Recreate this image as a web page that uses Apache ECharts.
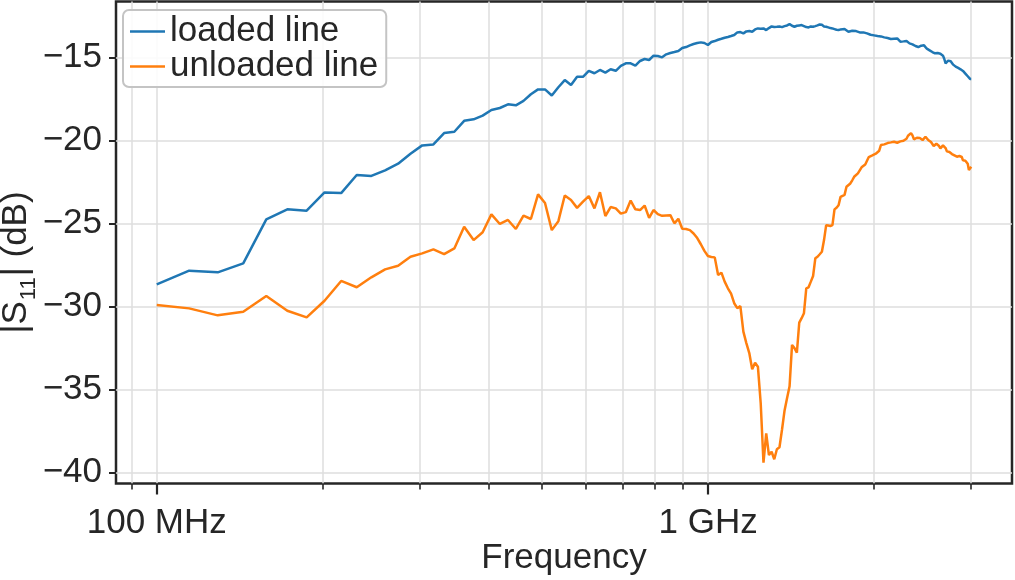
<!DOCTYPE html>
<html>
<head>
<meta charset="utf-8">
<script src="https://cdn.jsdelivr.net/npm/echarts@6/dist/echarts.min.js"></script>
<style>
html,body{margin:0;padding:0;background:#fff;}
#chart{width:1015px;height:580px;}
</style>
</head>
<body>
<div id="chart"></div>
<script>
// Frequency sweep points (MHz)
const frequencyMHz = [
100,114.5,129,143.5,158,172.5,187,201.5,216,230.5,
245,259.5,274,288.5,303,317.5,332,346.5,361,375.5,
390,404.5,419,433.5,448,462.5,477,491.5,506,520.5,
535,549.5,564,578.5,593,607.5,622,636.5,651,665.5,
680,694.5,709,723.5,738,752.5,767,781.5,796,810.5,
825,839.5,854,868.5,883,897.5,912,926.5,941,955.5,
970,984.5,999,1013.5,1028,1042.5,1057,1071.5,1086,1100.5,
1115,1129.5,1144,1158.5,1173,1187.5,1202,1216.5,1231,1245.5,
1260,1274.5,1289,1303.5,1318,1332.5,1347,1361.5,1376,1390.5,
1405,1419.5,1434,1448.5,1463,1477.5,1492,1506.5,1521,1535.5,
1550,1564.5,1579,1593.5,1608,1622.5,1637,1651.5,1666,1680.5,
1695,1709.5,1724,1738.5,1753,1767.5,1782,1796.5,1811,1825.5,
1840,1854.5,1869,1883.5,1898,1912.5,1927,1941.5,1956,1970.5,
1985,1999.5,2014,2028.5,2043,2057.5,2072,2086.5,2101,2115.5,
2130,2144.5,2159,2173.5,2188,2202.5,2217,2231.5,2246,2260.5,
2275,2289.5,2304,2318.5,2333,2347.5,2362,2376.5,2391,2405.5,
2420,2434.5,2449,2463.5,2478,2492.5,2507,2521.5,2536,2550.5,
2565,2579.5,2594,2608.5,2623,2637.5,2652,2666.5,2681,2695.5,
2710,2724.5,2739,2753.5,2768,2782.5,2797,2811.5,2826,2840.5,
2855,2869.5,2884,2898.5,2913,2927.5,2942,2956.5,2971,2985.5,
3000
];

// |S11| in dB, loaded line
const loadedLine = [
-28.66,-27.84,-27.94,-27.40,-24.75,-24.15,-24.23,-23.13,-23.17,-22.08,
-22.14,-21.80,-21.40,-20.80,-20.30,-20.24,-19.56,-19.48,-18.82,-18.73,
-18.51,-18.17,-18.05,-17.83,-17.89,-17.62,-17.22,-16.93,-16.93,-17.30,
-16.80,-16.37,-16.67,-16.17,-16.17,-15.82,-15.96,-15.76,-15.92,-15.72,
-15.81,-15.52,-15.36,-15.36,-15.50,-15.22,-15.10,-15.16,-14.90,-14.92,
-15.00,-14.82,-14.74,-14.68,-14.62,-14.44,-14.38,-14.28,-14.20,-14.14,
-14.10,-14.14,-14.26,-14.08,-14.02,-13.94,-13.88,-13.82,-13.78,-13.72,
-13.66,-13.50,-13.48,-13.56,-13.44,-13.42,-13.46,-13.32,-13.26,-13.28,
-13.26,-13.36,-13.24,-13.14,-13.18,-13.16,-13.14,-13.18,-13.12,-13.08,
-13.00,-13.10,-13.16,-13.10,-13.08,-13.06,-13.12,-13.18,-13.20,-13.14,
-13.16,-13.12,-13.08,-13.02,-13.04,-13.14,-13.16,-13.20,-13.24,-13.26,
-13.30,-13.34,-13.36,-13.32,-13.34,-13.30,-13.38,-13.46,-13.50,-13.40,
-13.36,-13.42,-13.48,-13.50,-13.52,-13.50,-13.54,-13.56,-13.62,-13.64,
-13.66,-13.68,-13.70,-13.72,-13.72,-13.74,-13.76,-13.80,-13.80,-13.84,
-13.88,-13.90,-13.92,-13.88,-13.86,-13.86,-13.96,-14.06,-14.12,-14.04,
-13.96,-14.02,-14.10,-14.16,-14.20,-14.22,-14.28,-14.32,-14.36,-14.38,
-14.36,-14.30,-14.26,-14.28,-14.38,-14.48,-14.54,-14.58,-14.62,-14.68,
-14.72,-14.76,-14.76,-14.74,-14.76,-14.78,-14.80,-14.90,-15.10,-15.36,
-15.30,-15.20,-15.22,-15.24,-15.34,-15.44,-15.52,-15.56,-15.60,-15.64,
-15.68,-15.72,-15.76,-15.82,-15.90,-15.98,-16.06,-16.14,-16.22,-16.30,
-16.30
];

// |S11| in dB, unloaded line
const unloadedLine = [
-29.91,-30.11,-30.53,-30.31,-29.37,-30.25,-30.65,-29.65,-28.46,-28.84,
-28.24,-27.76,-27.54,-27.00,-26.80,-26.56,-26.84,-26.50,-25.20,-26.00,
-25.53,-24.45,-25.03,-24.79,-25.33,-24.53,-24.73,-23.25,-23.77,-25.40,
-24.86,-23.32,-23.59,-24.06,-23.69,-23.35,-24.09,-23.12,-24.55,-24.01,
-24.09,-24.41,-24.32,-23.62,-24.15,-24.19,-23.92,-24.66,-24.19,-24.44,
-24.54,-24.52,-24.50,-24.99,-24.72,-25.32,-25.33,-25.40,-25.60,-25.88,
-26.25,-26.65,-26.96,-27.02,-27.04,-28.10,-27.96,-28.50,-28.90,-29.22,
-29.80,-30.10,-29.97,-31.51,-32.20,-32.80,-33.78,-33.38,-33.62,-35.82,
-39.40,-37.63,-38.94,-38.74,-39.19,-38.59,-38.47,-37.40,-36.25,-35.50,
-34.80,-32.31,-32.50,-32.78,-30.97,-30.70,-30.40,-28.90,-28.84,-28.50,
-28.16,-27.10,-27.00,-26.85,-26.70,-26.00,-25.10,-25.12,-25.15,-25.10,
-24.15,-24.05,-23.90,-23.40,-23.35,-23.28,-22.79,-22.70,-22.59,-22.40,
-22.19,-22.10,-21.98,-21.90,-21.62,-21.55,-21.45,-21.39,-21.00,-20.95,
-20.90,-20.88,-20.80,-20.72,-20.62,-20.28,-20.26,-20.24,-20.20,-20.16,
-20.18,-20.12,-20.14,-20.08,-20.06,-20.14,-20.22,-20.06,-19.98,-20.02,
-19.94,-19.90,-19.72,-19.80,-19.56,-19.70,-19.94,-19.86,-19.84,-19.80,
-19.86,-19.94,-19.98,-19.86,-19.78,-19.90,-19.98,-20.04,-20.10,-20.16,
-20.34,-20.26,-20.20,-20.18,-20.34,-20.48,-20.40,-20.30,-20.28,-20.46,
-20.66,-20.60,-20.70,-20.76,-20.82,-20.86,-20.90,-20.94,-20.98,-20.96,
-20.94,-20.94,-21.00,-21.20,-21.28,-21.22,-21.18,-21.40,-21.78,-21.66,
-21.59
];

const seriesNames = ['loaded line', 'unloaded line'];
const xMinorTicks = [90,100,200,300,400,500,600,700,800,900,1000,2000,3000];
const xMajorTicks = [100, 1000];
const xTickLabels = {100: '100 MHz', 1000: '1 GHz'};
const yTicks = [-40, -35, -30, -25, -20, -15];

const FONT = '"Liberation Sans", Arial, sans-serif';
const INK = '#262626';
const FS = 35;

const chart = echarts.init(document.getElementById('chart'), null, {renderer: 'canvas'});

const pairs = arr => frequencyMHz.map((f, i) => [f, arr[i]]);

chart.setOption({
  animation: false,
  backgroundColor: '#ffffff',
  textStyle: {fontFamily: FONT, color: INK},
  grid: {
    left: 116, right: 3, top: 1.5, bottom: 96.5,
    show: true, borderColor: INK, borderWidth: 2.5,
    containLabel: false, outerBoundsMode: 'none'
  },
  legend: {
    data: seriesNames,
    orient: 'vertical',
    left: 123, top: 10,
    padding: [4, 8, 3, 7],
    itemGap: 0,
    icon: 'rect',
    itemWidth: 35,
    itemHeight: 2.6,
    backgroundColor: 'rgba(255,255,255,0.85)',
    borderColor: '#c4c4c4',
    borderWidth: 2,
    borderRadius: 6,
    textStyle: {fontFamily: FONT, fontSize: FS, color: INK, lineHeight: 35, padding: [0,0,0,0]},
    z: 10
  },
  xAxis: [{
    type: 'log', logBase: 10, min: 84.35, max: 3557,
    name: 'Frequency', nameLocation: 'middle', nameGap: 57, nameMoveOverlap: false,
    nameTextStyle: {fontFamily: FONT, fontSize: FS, color: INK},
    axisLine: {show: false},
    axisTick: {show: true, customValues: xMinorTicks, length: 6, lineStyle: {color: INK, width: 1.6}},
    axisLabel: {
      customValues: xMajorTicks, margin: 22,
      fontFamily: FONT, fontSize: FS, color: INK,
      formatter: v => xTickLabels[Math.round(v)] || ''
    },
    splitLine: {show: true, lineStyle: {color: '#dedede', width: 1.5}},
    minorTick: {show: false}
  }, {
    type: 'log', logBase: 10, min: 84.35, max: 3557, position: 'bottom',
    axisLine: {show: false},
    axisTick: {show: true, customValues: xMajorTicks, length: 11, lineStyle: {color: INK, width: 2.2}},
    axisLabel: {show: false},
    splitLine: {show: false}
  }],
  yAxis: {
    type: 'value', min: -40.65, max: -11.64,
    name: '{t|\u007cS}{s|11}{t|\u007c (dB)}',
    nameLocation: 'middle', nameGap: 76, nameRotate: 90, nameMoveOverlap: false,
    nameTextStyle: {
      fontFamily: FONT, fontSize: FS, color: INK, padding: [0, 40, 0, 0],
      rich: {
        t: {fontFamily: FONT, fontSize: FS, color: INK, lineHeight: 48},
        s: {fontFamily: FONT, fontSize: 22, color: INK, lineHeight: 22, verticalAlign: 'bottom', padding: [0, 1, 0, 1]}
      }
    },
    axisLine: {show: false},
    axisTick: {show: true, customValues: yTicks, length: 7, lineStyle: {color: INK, width: 2}},
    axisLabel: {
      customValues: yTicks, margin: 14,
      fontFamily: FONT, fontSize: FS, color: INK,
      formatter: v => String(Math.round(v)).replace('-', '\u2212')
    },
    splitLine: {show: true, lineStyle: {color: '#dedede', width: 1.5}}
  },
  series: [{
    name: seriesNames[0], type: 'line', xAxisIndex: 0,
    data: pairs(loadedLine),
    symbol: 'none', showSymbol: false,
    lineStyle: {color: '#1f77b4', width: 2.5},
    itemStyle: {color: '#1f77b4'},
    z: 3
  }, {
    name: seriesNames[1], type: 'line', xAxisIndex: 0,
    data: pairs(unloadedLine),
    symbol: 'none', showSymbol: false,
    lineStyle: {color: '#ff7f0e', width: 2.5},
    itemStyle: {color: '#ff7f0e'},
    z: 3
  }]
});
</script>
</body>
</html>
